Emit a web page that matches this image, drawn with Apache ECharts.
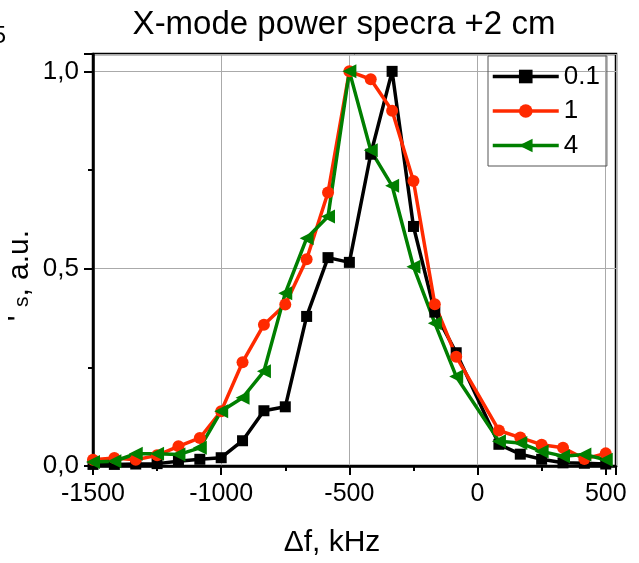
<!DOCTYPE html>
<html><head><meta charset="utf-8">
<script src="https://cdn.jsdelivr.net/npm/echarts@6/dist/echarts.min.js"></script>
<style>html,body{margin:0;padding:0;background:#fff}#c{width:639px;height:563px}</style>
</head><body><div id="c"></div>
<script>
// frequency offsets, kHz
const freqs = [-1500, -1416.7, -1333.3, -1250, -1166.7, -1083.3, -1000, -916.7, -833.3, -750, -666.7, -583.3, -500, -416.7, -333.3, -250, -166.7, -83.3, 83.3, 166.7, 250, 333.3, 416.7, 500];
const series01 = [0.004, 0.004, 0.005, 0.006, 0.012, 0.017, 0.021, 0.064, 0.14, 0.15, 0.379, 0.528, 0.516, 0.79, 1.0, 0.607, 0.39, 0.287, 0.055, 0.03, 0.017, 0.008, 0.007, 0.005];
const series1 = [0.016, 0.02, 0.016, 0.027, 0.05, 0.071, 0.139, 0.263, 0.358, 0.409, 0.524, 0.693, 1.0, 0.98, 0.90, 0.722, 0.41, 0.277, 0.09, 0.072, 0.054, 0.046, 0.018, 0.032];
const series4 = [0.01, 0.012, 0.031, 0.031, 0.029, 0.046, 0.139, 0.173, 0.24, 0.438, 0.577, 0.632, 1.0, 0.80, 0.71, 0.505, 0.362, 0.227, 0.063, 0.058, 0.037, 0.025, 0.029, 0.016];
const seriesNames = ['0.1', '1', '4'];
const xTickValues = [-1500, -1000, -500, 0, 500];
const yTickValues = [0, 0.5, 1.0];
const titleText = 'X-mode power specra +2 cm';
const xAxisTitle = '\u0394f, kHz';

const FONT = "'Liberation Sans', Arial, sans-serif";
const pairs = arr => freqs.map((f, i) => [f, arr[i]]);
const chart = echarts.init(document.getElementById('c'), null, {renderer: 'canvas'});

const baseSeries = (name, data, color, symbol, size, rot) => ({
  name, type: 'line', data: pairs(data),
  lineStyle: {color, width: 3.5},
  itemStyle: {color},
  symbol, symbolSize: size, symbolRotate: rot || 0,
  showAllSymbol: true, animation: false
});

chart.setOption({
  animation: false,
  backgroundColor: '#fff',
  title: {
    text: titleText, left: 339, top: 3, textAlign: 'center',
    textStyle: {fontFamily: FONT, fontSize: 33, fontWeight: 'normal', color: '#000'}
  },
  grid: {left: 93, right: 23, top: 54, bottom: 97, show: true, borderColor: '#000', borderWidth: 2.5, containLabel: false},
  legend: {
    left: 488, top: 56, orient: 'vertical', selectedMode: false,
    itemWidth: 66, itemHeight: 17, itemGap: 6.5,
    padding: [6.5, 7, 6.5, 3],
    borderColor: '#555', borderWidth: 1,
    lineStyle: {width: 3.5},
    textStyle: {fontFamily: FONT, fontSize: 26, color: '#000', lineHeight: 28},
    data: seriesNames
  },
  xAxis: {
    type: 'value', min: -1500, max: 540, interval: 500,
    name: xAxisTitle, nameLocation: 'middle', nameGap: 62,
    nameTextStyle: {fontFamily: FONT, fontSize: 30, color: '#000', padding: [0, 45, 0, 0]},
    axisLine: {onZero: false, lineStyle: {color: '#000', width: 2.5}},
    axisTick: {inside: false, length: 9, lineStyle: {color: '#000', width: 2}},
    minorTick: {show: true, splitNumber: 2, length: 5, lineStyle: {color: '#000', width: 2}},
    axisLabel: {fontFamily: FONT, fontSize: 25, color: '#000', margin: 16, showMaxLabel: false,
      formatter: v => xTickValues.includes(v) ? String(v) : ''},
    splitLine: {show: true, lineStyle: {color: '#aaaaaa', width: 1}}
  },
  yAxis: {
    type: 'value', min: 0, max: 1.044, interval: 0.5,
    axisLine: {show: true, onZero: false, lineStyle: {color: '#000', width: 2.5}},
    axisTick: {show: true, inside: false, length: 9, lineStyle: {color: '#000', width: 2}},
    minorTick: {show: true, splitNumber: 2, length: 5, lineStyle: {color: '#000', width: 2}},
    axisLabel: {fontFamily: FONT, fontSize: 26, color: '#000', margin: 14, showMaxLabel: false,
      formatter: v => yTickValues.includes(v) ? v.toFixed(1).replace('.', ',') : ''},
    splitLine: {show: true, lineStyle: {color: '#aaaaaa', width: 1}}
  },
  graphic: [
    {type: 'text', x: 20, y: 275.5, rotation: Math.PI / 2,
      style: {text: "{a|'}{a| }{b|s}{a|, a.u.}", align: 'center', verticalAlign: 'middle',
        rich: {a: {fontFamily: FONT, fontSize: 30, color: '#000', lineHeight: 34, verticalAlign: 'middle'},
               b: {fontFamily: FONT, fontSize: 21, color: '#000', lineHeight: 34, verticalAlign: 'middle', padding: [4, 0, 0, 0]}}}},
    {type: 'text', x: 6, y: 36,
      style: {text: '5', align: 'right', verticalAlign: 'middle', fontFamily: FONT, fontSize: 24, fill: '#000'}}
  ],
  series: [
    baseSeries(seriesNames[0], series01, '#000000', 'rect', 11),
    baseSeries(seriesNames[1], series1, '#ff2a00', 'circle', 12),
    baseSeries(seriesNames[2], series4, '#007f00', 'triangle', 14, 90)
  ]
});
</script></body></html>
